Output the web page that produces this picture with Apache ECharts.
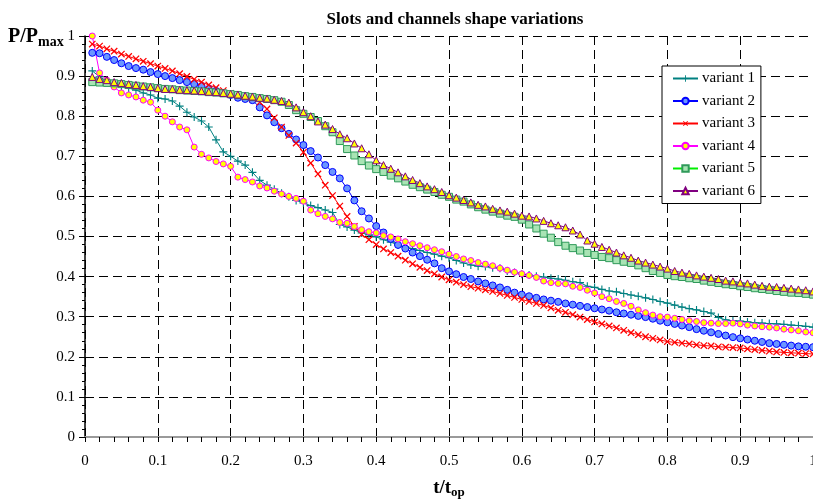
<!DOCTYPE html>
<html>
<head>
<meta charset="utf-8">
<title>Slots and channels shape variations</title>
<script src="https://cdn.jsdelivr.net/npm/echarts@6/dist/echarts.min.js"></script>
<style>
  html, body { margin: 0; padding: 0; background: #fff; }
  #chart { width: 813px; height: 500px; }
</style>
</head>
<body>
<div id="chart"></div>
<script>
// t/top sample points
const tSteps = [
  0.01, 0.02, 0.03, 0.04, 0.05, 0.06, 0.07, 0.08, 0.09, 0.10,
  0.11, 0.12, 0.13, 0.14, 0.15, 0.16, 0.17, 0.18, 0.19, 0.20,
  0.21, 0.22, 0.23, 0.24, 0.25, 0.26, 0.27, 0.28, 0.29, 0.30,
  0.31, 0.32, 0.33, 0.34, 0.35, 0.36, 0.37, 0.38, 0.39, 0.40,
  0.41, 0.42, 0.43, 0.44, 0.45, 0.46, 0.47, 0.48, 0.49, 0.50,
  0.51, 0.52, 0.53, 0.54, 0.55, 0.56, 0.57, 0.58, 0.59, 0.60,
  0.61, 0.62, 0.63, 0.64, 0.65, 0.66, 0.67, 0.68, 0.69, 0.70,
  0.71, 0.72, 0.73, 0.74, 0.75, 0.76, 0.77, 0.78, 0.79, 0.80,
  0.81, 0.82, 0.83, 0.84, 0.85, 0.86, 0.87, 0.88, 0.89, 0.90,
  0.91, 0.92, 0.93, 0.94, 0.95, 0.96, 0.97, 0.98, 0.99, 1.00
];

// P/Pmax, variant 1
const variant1 = [
  0.913, 0.898, 0.888, 0.883, 0.875, 0.870, 0.865, 0.858, 0.853, 0.845,
  0.843, 0.838, 0.825, 0.810, 0.798, 0.788, 0.773, 0.741, 0.711, 0.700,
  0.688, 0.678, 0.660, 0.640, 0.628, 0.618, 0.608, 0.599, 0.590, 0.584,
  0.577, 0.572, 0.566, 0.560, 0.530, 0.524, 0.516, 0.509, 0.504, 0.499,
  0.492, 0.486, 0.479, 0.474, 0.470, 0.465, 0.460, 0.456, 0.451, 0.447,
  0.440, 0.434, 0.429, 0.426, 0.425, 0.422, 0.421, 0.414, 0.410, 0.406,
  0.404, 0.401, 0.399, 0.396, 0.394, 0.391, 0.387, 0.385, 0.376, 0.373,
  0.368, 0.364, 0.362, 0.358, 0.354, 0.351, 0.347, 0.343, 0.338, 0.334,
  0.329, 0.324, 0.320, 0.317, 0.313, 0.309, 0.298, 0.292, 0.290, 0.289,
  0.287, 0.285, 0.284, 0.283, 0.282, 0.281, 0.279, 0.278, 0.276, 0.274
];

// variant 2
const variant2 = [
  0.958, 0.957, 0.948, 0.940, 0.932, 0.925, 0.920, 0.916, 0.910, 0.905,
  0.900, 0.895, 0.890, 0.885, 0.880, 0.875, 0.868, 0.863, 0.858, 0.853,
  0.846, 0.843, 0.840, 0.822, 0.802, 0.785, 0.770, 0.756, 0.742, 0.728,
  0.713, 0.697, 0.678, 0.661, 0.645, 0.620, 0.590, 0.563, 0.545, 0.526,
  0.510, 0.494, 0.479, 0.470, 0.460, 0.451, 0.442, 0.433, 0.421, 0.413,
  0.406, 0.399, 0.394, 0.388, 0.383, 0.378, 0.373, 0.367, 0.360, 0.355,
  0.351, 0.347, 0.343, 0.340, 0.337, 0.333, 0.330, 0.327, 0.324, 0.321,
  0.318, 0.315, 0.311, 0.308, 0.305, 0.302, 0.299, 0.295, 0.290, 0.286,
  0.282, 0.278, 0.274, 0.269, 0.265, 0.261, 0.257, 0.253, 0.249, 0.246,
  0.243, 0.240, 0.237, 0.234, 0.232, 0.230, 0.228, 0.226, 0.225, 0.224
];

// variant 3
const variant3 = [
  0.980, 0.975, 0.968, 0.962, 0.955, 0.949, 0.943, 0.937, 0.931, 0.925,
  0.919, 0.913, 0.906, 0.899, 0.892, 0.885, 0.878, 0.871, 0.864, 0.857,
  0.852, 0.849, 0.845, 0.835, 0.818, 0.796, 0.773, 0.752, 0.733, 0.710,
  0.683, 0.656, 0.628, 0.602, 0.576, 0.550, 0.525, 0.505, 0.492, 0.480,
  0.469, 0.460, 0.451, 0.441, 0.432, 0.423, 0.415, 0.407, 0.399, 0.392,
  0.386, 0.380, 0.375, 0.371, 0.367, 0.363, 0.358, 0.353, 0.348, 0.343,
  0.338, 0.333, 0.328, 0.322, 0.316, 0.311, 0.305, 0.299, 0.293, 0.287,
  0.282, 0.277, 0.272, 0.266, 0.260, 0.255, 0.250, 0.246, 0.242, 0.238,
  0.236, 0.234, 0.232, 0.230, 0.228, 0.227, 0.225, 0.224, 0.223, 0.222,
  0.220, 0.218, 0.216, 0.214, 0.212, 0.211, 0.210, 0.209, 0.208, 0.207
];

// variant 4
const variant4 = [
  1.000, 0.908, 0.890, 0.873, 0.858, 0.853, 0.848, 0.840, 0.835, 0.815,
  0.800, 0.786, 0.773, 0.766, 0.723, 0.705, 0.696, 0.687, 0.681, 0.675,
  0.648, 0.642, 0.636, 0.626, 0.621, 0.613, 0.606, 0.600, 0.595, 0.588,
  0.566, 0.557, 0.550, 0.544, 0.535, 0.533, 0.525, 0.517, 0.512, 0.509,
  0.502, 0.499, 0.494, 0.487, 0.482, 0.477, 0.472, 0.467, 0.462, 0.456,
  0.450, 0.444, 0.440, 0.435, 0.431, 0.427, 0.421, 0.416, 0.411, 0.407,
  0.403, 0.398, 0.389, 0.385, 0.383, 0.382, 0.376, 0.373, 0.366, 0.359,
  0.350, 0.345, 0.338, 0.333, 0.326, 0.317, 0.310, 0.304, 0.300, 0.299,
  0.296, 0.293, 0.290, 0.288, 0.285, 0.284, 0.283, 0.283, 0.284, 0.282,
  0.279, 0.277, 0.275, 0.274, 0.272, 0.269, 0.267, 0.265, 0.262, 0.260
];

// variant 5
const variant5 = [
  0.885, 0.884, 0.883, 0.882, 0.880, 0.878, 0.876, 0.874, 0.872, 0.870,
  0.868, 0.867, 0.865, 0.864, 0.863, 0.862, 0.860, 0.859, 0.857, 0.855,
  0.853, 0.850, 0.848, 0.845, 0.843, 0.840, 0.836, 0.828, 0.815, 0.806,
  0.798, 0.788, 0.775, 0.760, 0.738, 0.718, 0.702, 0.688, 0.677, 0.668,
  0.661, 0.652, 0.645, 0.637, 0.629, 0.623, 0.617, 0.611, 0.604, 0.599,
  0.592, 0.587, 0.580, 0.573, 0.567, 0.562, 0.557, 0.552, 0.549, 0.542,
  0.530, 0.520, 0.507, 0.497, 0.486, 0.477, 0.471, 0.465, 0.459, 0.454,
  0.449, 0.446, 0.441, 0.437, 0.434, 0.428, 0.421, 0.414, 0.409, 0.404,
  0.401, 0.399, 0.396, 0.394, 0.390, 0.387, 0.384, 0.381, 0.379, 0.376,
  0.374, 0.371, 0.369, 0.367, 0.364, 0.362, 0.360, 0.359, 0.357, 0.355
];

// variant 6
const variant6 = [
  0.898, 0.893, 0.890, 0.885, 0.883, 0.880, 0.878, 0.875, 0.873, 0.870,
  0.868, 0.868, 0.866, 0.865, 0.864, 0.863, 0.861, 0.860, 0.858, 0.856,
  0.854, 0.851, 0.849, 0.846, 0.844, 0.841, 0.838, 0.834, 0.822, 0.810,
  0.800, 0.787, 0.779, 0.768, 0.755, 0.745, 0.732, 0.720, 0.705, 0.690,
  0.678, 0.669, 0.660, 0.650, 0.641, 0.633, 0.625, 0.618, 0.611, 0.603,
  0.597, 0.591, 0.585, 0.579, 0.575, 0.569, 0.565, 0.562, 0.557, 0.552,
  0.550, 0.545, 0.539, 0.533, 0.528, 0.523, 0.515, 0.505, 0.490, 0.482,
  0.474, 0.467, 0.460, 0.453, 0.447, 0.440, 0.435, 0.430, 0.425, 0.420,
  0.414, 0.410, 0.407, 0.403, 0.400, 0.397, 0.394, 0.390, 0.388, 0.385,
  0.383, 0.380, 0.377, 0.375, 0.374, 0.372, 0.370, 0.368, 0.366, 0.363
];

const seriesNames = ['variant 1', 'variant 2', 'variant 3', 'variant 4', 'variant 5', 'variant 6'];

const serif = '"Liberation Serif", "DejaVu Serif", serif';
// plus shape, rotated 45 deg it becomes the x marker
const plusPath = 'path://M4.3,0h1.4v4.3h4.3v1.4h-4.3v4.3h-1.4v-4.3h-4.3v-1.4h4.3z';

const toPairs = (vals) => tSteps.map((t, i) => [t, vals[i]]);

const makeSeries = (name, vals, lineColor, sym) => ({
  name: name,
  type: 'line',
  data: toPairs(vals),
  showSymbol: true,
  symbol: sym.symbol,
  symbolSize: sym.size,
  symbolRotate: sym.rotate || 0,
  lineStyle: { color: lineColor, width: 1 },
  itemStyle: {
    color: sym.fill,
    borderColor: sym.border,
    borderWidth: sym.borderWidth === undefined ? 1 : sym.borderWidth,
  },
  emphasis: { disabled: true },
  animation: false,
});

const chart = echarts.init(document.getElementById('chart'));

const option = {
  backgroundColor: '#fff',
  animation: false,
  title: [
    {
      text: 'Slots and channels shape variations',
      left: 450,
      top: 6,
      textAlign: 'center',
      textStyle: { fontFamily: serif, fontWeight: 'bold', fontSize: 17, color: '#000' },
    },
    {
      // y axis name
      text: '{a|P/P}{b|max}',
      left: 8,
      top: 27,
      padding: 0,
      textStyle: {
        rich: {
          a: { fontFamily: serif, fontWeight: 'bold', fontSize: 20, color: '#000', lineHeight: 22, verticalAlign: 'top' },
          b: { fontFamily: serif, fontWeight: 'bold', fontSize: 14, color: '#000', lineHeight: 14, padding: [11, 0, 0, 0], verticalAlign: 'bottom' },
        },
      },
    },
  ],
  legend: {
    data: seriesNames,
    orient: 'vertical',
    left: 662,
    top: 66,
    padding: [5, 6, 5, 10],
    itemGap: 7.5,
    itemWidth: 25,
    itemHeight: 8,
    backgroundColor: '#fff',
    borderColor: '#000',
    borderWidth: 1,
    textStyle: { fontFamily: serif, fontSize: 15, color: '#000', padding: [0, 0, 0, -1] },
  },
  grid: { left: 85, right: 0, top: 36, bottom: 63, outerBoundsMode: 'none' },
  xAxis: [
    {
      type: 'value',
      min: 0,
      max: 1,
      interval: 0.1,
      name: '{a|t/t}{b|op}',
      nameLocation: 'middle',
      nameGap: 42,
      nameTextStyle: {
        rich: {
          a: { fontFamily: serif, fontWeight: 'bold', fontSize: 19, color: '#000', lineHeight: 20, verticalAlign: 'top' },
          b: { fontFamily: serif, fontWeight: 'bold', fontSize: 13, color: '#000', lineHeight: 13, padding: [10, 0, 0, 0], verticalAlign: 'bottom' },
        },
      },
      axisLine: { show: true, onZero: false, lineStyle: { color: '#000', width: 1.5 } },
      axisTick: { show: true, inside: false, length: 5, lineStyle: { color: '#000' } },
      minorTick: { show: true, splitNumber: 5, length: 5, lineStyle: { color: '#000' } },
      axisLabel: { fontFamily: serif, fontSize: 15, color: '#000', margin: 17 },
      splitLine: { show: true, lineStyle: { color: '#000', width: 1, type: [9, 5] } },
    },
    {
      // plot area top edge
      type: 'value',
      position: 'top',
      min: 0,
      max: 1,
      axisLine: { show: true, lineStyle: { color: '#9a9a9a', width: 2 } },
      axisTick: { show: false },
      axisLabel: { show: false },
      splitLine: { show: false },
    },
  ],
  yAxis: {
    type: 'value',
    min: 0,
    max: 1,
    interval: 0.1,
    axisLine: { show: true, lineStyle: { color: '#000', width: 1.5 } },
    axisTick: { show: true, inside: false, length: 6, lineStyle: { color: '#000' } },
    minorTick: { show: true, splitNumber: 5, length: 3, lineStyle: { color: '#000' } },
    axisLabel: { fontFamily: serif, fontSize: 15, color: '#000', margin: 10 },
    splitLine: { show: true, lineStyle: { color: '#000', width: 1, type: [9, 5] } },
  },
  series: [
    makeSeries(seriesNames[0], variant1, '#008080',
      { symbol: plusPath, size: 8, fill: '#008080', border: '#008080', borderWidth: 0 }),
    makeSeries(seriesNames[1], variant2, '#0000ff',
      { symbol: 'circle', size: 7, fill: '#6a96ff', border: '#0000ff' }),
    makeSeries(seriesNames[2], variant3, '#ff0000',
      { symbol: plusPath, size: 9, rotate: 45, fill: '#ff0000', border: '#ff0000', borderWidth: 0 }),
    makeSeries(seriesNames[3], variant4, '#ff00ff',
      { symbol: 'circle', size: 6, fill: '#ffff00', border: '#ff00ff' }),
    makeSeries(seriesNames[4], variant5, '#00ee00',
      { symbol: 'rect', size: 7, fill: '#a8e4b4', border: '#2f9a5a' }),
    makeSeries(seriesNames[5], variant6, '#800080',
      { symbol: 'triangle', size: 7, fill: '#ffff00', border: '#800080' }),
  ],
};

chart.setOption(option);
</script>
</body>
</html>
